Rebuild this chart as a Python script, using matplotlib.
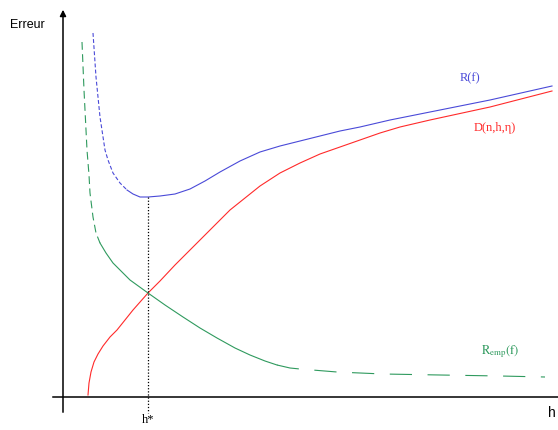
import matplotlib.pyplot as plt

plt.rcParams['mathtext.fontset'] = 'stix'

# curve points (h, erreur)
r_h = [30, 33, 37, 42, 45, 50, 57, 64, 70, 77, 85, 97, 112, 127, 142, 157, 177, 197, 217, 237, 257, 277, 297, 327, 367, 427, 489]
r_err = [364, 320, 280, 247, 237, 224, 214, 207, 203, 200, 200, 201, 203, 208, 216, 225, 236, 245, 251, 256, 261, 266, 270, 277, 285, 297, 311]

d_h = [25, 26, 28, 31, 35, 40, 47, 54, 62, 70, 85, 97, 112, 127, 147, 167, 177, 197, 217, 237, 257, 277, 297, 317, 337, 367, 427, 489]
d_err = [2, 14, 25, 35, 43, 51, 60, 67, 77, 87, 104, 116, 132, 147, 167, 187, 195, 211, 224, 234, 243, 250, 257, 264, 270, 277, 290, 306]

emp_h = [19, 21, 23, 24, 26, 27, 30, 33, 37, 43, 50, 59, 67, 85, 102, 120, 137, 154, 172, 187, 202, 214, 227, 237, 274, 320, 377, 437, 482]
emp_err = [355, 307, 267, 247, 222, 204, 180, 164, 154, 144, 134, 125, 117, 104, 92, 80, 69, 59, 49, 42, 36, 32, 29, 28, 25, 23, 22, 21, 20]

h_star = 85

blue = '#4a4ad8'
red = '#ff2a2a'
green = '#2f9a5e'
lw = 0.8

fig = plt.figure(figsize=(5.58, 4.30), dpi=100)
ax = fig.add_axes([0, 0, 1, 1])
ax.set_xlim(-63, 495)
ax.set_ylim(-33, 397)
ax.set_axis_off()

# axes with arrows
ax.annotate('', xy=(0, 390), xytext=(0, -18),
            arrowprops=dict(arrowstyle='-|>', color='black', lw=1.1, mutation_scale=9))
ax.plot([-10, 495], [0, 0], color='black', lw=1.1)

# R(f)
ax.plot(r_h[:8], r_err[:8], color=blue, lw=lw, dashes=(3.5, 2))
ax.plot(r_h[7:], r_err[7:], color=blue, lw=lw)

# D(n,h,eta)
ax.plot(d_h, d_err, color=red, lw=lw)

# R_emp(f)
ax.plot(emp_h[:9], emp_err[:9], color=green, lw=lw, dashes=(7, 4))
ax.plot(emp_h[8:22], emp_err[8:22], color=green, lw=lw)
ax.plot(emp_h[21:], emp_err[21:], color=green, lw=lw, dashes=(20, 14))

# h* line
ax.plot([h_star, h_star], [r_err[10], -16], color='black', lw=0.9, ls=(0, (1, 1.5)))

ax.text(-53, 372, 'Erreur', fontsize=9, family='Liberation Sans', va='center', ha='left')
ax.text(485, -16, 'h', fontsize=10, family='Liberation Sans', va='center', ha='left')
ax.text(h_star, -23, r'h*', fontsize=9, family='Liberation Serif', va='center', ha='center')

ax.text(407, 319, 'R(f)', fontsize=9, family='Liberation Serif', color=blue, va='center', ha='center')
ax.text(432, 269, 'D(n,h,η)', fontsize=9, family='Liberation Serif', color=red, va='center', ha='center')
ax.text(437, 45, r'$\mathrm{R_{emp}(f)}$', fontsize=9, color=green, va='center', ha='center')

fig.savefig('out.png', dpi=100)
